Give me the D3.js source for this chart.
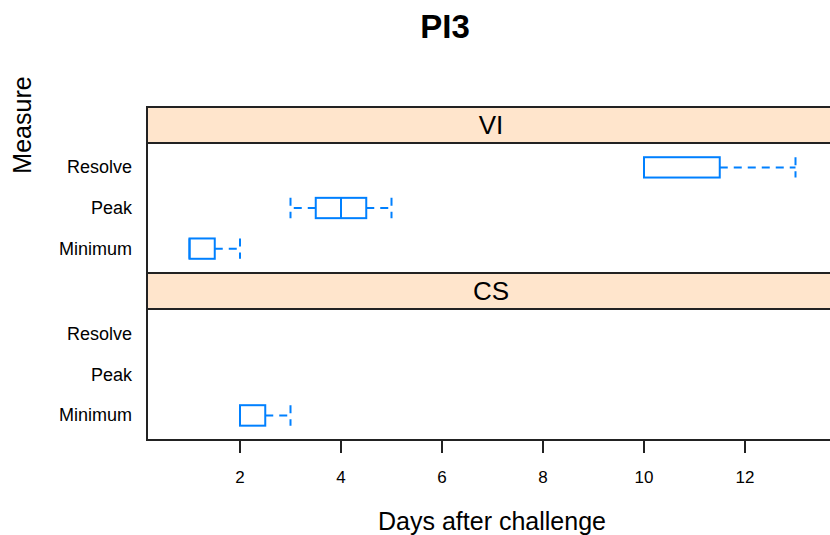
<!DOCTYPE html>
<html>
<head>
<meta charset="utf-8">
<title>PI3</title>
<style>
  body { margin: 0; background: #fff; }
  svg text { font-family: "Liberation Sans", Arial, sans-serif; fill: #000; }
  .frame { fill: none; stroke: #222; stroke-width: 2; }
  .strip { fill: #ffe5cc; stroke: #222; stroke-width: 2; }
  .box { fill: none; stroke: #0080ff; stroke-width: 2; }
  .whisker { stroke: #0080ff; stroke-width: 2; stroke-dasharray: 8,6; fill: none; }
  .tick line { stroke: #222; stroke-width: 2; }
</style>
</head>
<body>
<div id="chart"></div>
<script src="https://cdnjs.cloudflare.com/ajax/libs/d3/7.8.5/d3.min.js"></script>
<script>
// data
var measures = ["Minimum", "Peak", "Resolve"];
var groups = ["VI", "CS"];
// five-number summaries: [low whisker, Q1, median, Q3, high whisker]
var viStats = [[1, 1, 1, 1.5, 2], [3, 3.5, 4, 4.5, 5], [10, 10, 10, 11.5, 13]];
var csStats = [[2, 2, 2, 2.5, 3], null, null];
var xTicks = [2, 4, 6, 8, 10, 12];

var statsByGroup = { VI: viStats, CS: csStats };

var W = 830, H = 535;
var left = 147, right = 840;
var stripH = 36;
var panels = [
  { name: groups[0], top: 107, height: 130 },
  { name: groups[1], top: 273, height: 131 }
];

var svg = d3.select("#chart").append("svg")
  .attr("width", W)
  .attr("height", H);

var x = d3.scaleLinear().domain([0, 14]).range([139, 139 + 14 * 50.5]);

svg.append("text")
  .attr("x", 445).attr("y", 38)
  .attr("text-anchor", "middle")
  .style("font-size", "33px").style("font-weight", "bold")
  .text("PI3");

panels.forEach(function(p) {
  var g = svg.append("g");
  var pTop = p.top + stripH;
  var pBot = pTop + p.height;
  var y = d3.scaleLinear().domain([0.4, 3.6]).range([pBot, pTop]);

  // strip
  g.append("rect").attr("class", "strip")
    .attr("x", left).attr("y", p.top)
    .attr("width", right - left).attr("height", stripH);
  g.append("text")
    .attr("x", 491).attr("y", p.top + stripH / 2 + 9)
    .attr("text-anchor", "middle")
    .style("font-size", "26px")
    .text(p.name);

  // panel frame
  g.append("rect").attr("class", "frame")
    .attr("x", left).attr("y", pTop)
    .attr("width", right - left).attr("height", pBot - pTop);

  // category labels
  measures.forEach(function(m, i) {
    g.append("text")
      .attr("x", 132).attr("y", y(i + 1) + 6)
      .attr("text-anchor", "end")
      .style("font-size", "18px")
      .text(m);
  });

  // boxes
  var stats = statsByGroup[p.name];
  stats.forEach(function(s, i) {
    if (!s) return;
    var cy = y(i + 1);
    var y0 = y(i + 1 + 0.25), y1 = y(i + 1 - 0.25);
    var b = g.append("g");
    // whiskers drawn from the box edge outwards
    b.append("line").attr("class", "whisker")
      .attr("x1", x(s[1])).attr("x2", x(s[0])).attr("y1", cy).attr("y2", cy);
    b.append("line").attr("class", "whisker")
      .attr("x1", x(s[3])).attr("x2", x(s[4])).attr("y1", cy).attr("y2", cy);
    // caps
    [s[0], s[4]].forEach(function(v, k) {
      if (v === s[k ? 3 : 1]) return;
      b.append("line").attr("class", "whisker")
        .attr("x1", x(v)).attr("x2", x(v)).attr("y1", y0).attr("y2", y1);
    });
    b.append("rect").attr("class", "box")
      .attr("x", x(s[1])).attr("y", y0)
      .attr("width", x(s[3]) - x(s[1])).attr("height", y1 - y0);
    b.append("line").attr("class", "box")
      .attr("x1", x(s[2])).attr("x2", x(s[2])).attr("y1", y0).attr("y2", y1);
  });
});

// x axis under the bottom panel
var axisY = 440;
var ax = svg.append("g");
xTicks.forEach(function(t) {
  var tg = ax.append("g").attr("class", "tick");
  tg.append("line").attr("x1", x(t)).attr("x2", x(t)).attr("y1", axisY).attr("y2", axisY + 13);
  tg.append("text").attr("x", x(t)).attr("y", axisY + 43)
    .attr("text-anchor", "middle").style("font-size", "17px").text(t);
});

svg.append("text")
  .attr("x", 492).attr("y", 530)
  .attr("text-anchor", "middle")
  .style("font-size", "25px")
  .text("Days after challenge");

svg.append("text")
  .attr("transform", "translate(31,125) rotate(-90)")
  .attr("text-anchor", "middle")
  .style("font-size", "25px")
  .text("Measure");
</script>
</body>
</html>
